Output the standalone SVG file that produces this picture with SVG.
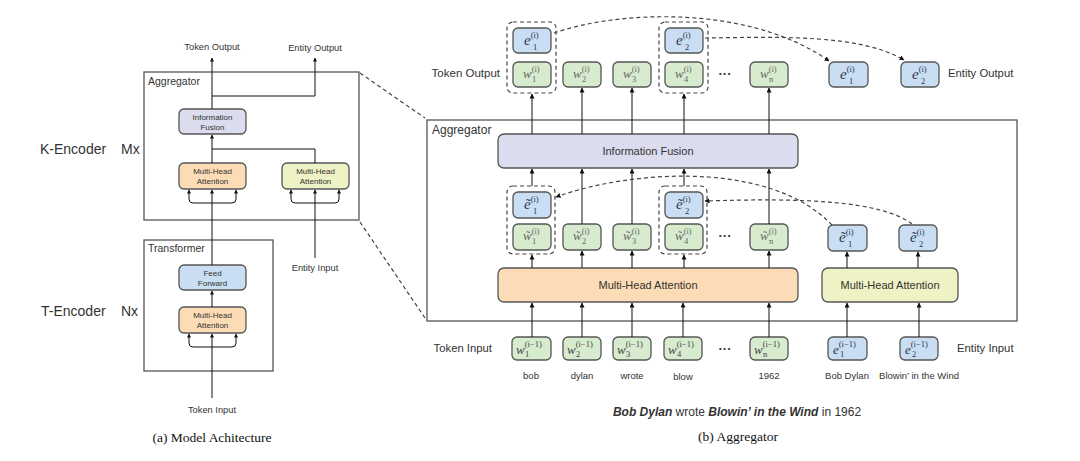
<svg xmlns="http://www.w3.org/2000/svg" width="1080" height="461" viewBox="0 0 1080 461">
<defs>
<marker id="arr" viewBox="0 0 10 10" refX="9" refY="5" markerWidth="5" markerHeight="5" markerUnits="userSpaceOnUse" orient="auto"><path d="M0,0 L10,5 L0,10 z" fill="#111"/></marker>
<marker id="arrs" viewBox="0 0 10 10" refX="9" refY="5" markerWidth="4" markerHeight="4" markerUnits="userSpaceOnUse" orient="auto"><path d="M0,0 L10,5 L0,10 z" fill="#111"/></marker>
<style>
.lbl{font-family:"Liberation Sans",Arial,sans-serif;fill:#333}
.cap{font-family:"Liberation Serif","Times New Roman",serif;fill:#111;font-size:13.5px}
.frame{fill:none;stroke:#555;stroke-width:1.3}
.box{stroke:#555;stroke-width:1.3}
.g{fill:#d7ebcf}
.b{fill:#c9def2}
.o{fill:#fcdcb6}
.y{fill:#eff2c4}
.p{fill:#dcdcef}
.ln{fill:none;stroke:#111;stroke-width:1}
.dash{fill:none;stroke:#444;stroke-width:1.2;stroke-dasharray:4,3}
.m{font-family:"Liberation Serif","Times New Roman",serif;font-style:italic}
.mw{fill:#666;font-size:13px}
.me{fill:#2a3550;font-size:15px}
.sup{font-style:normal;font-size:8.5px}
</style>
</defs>

<!-- ================= LEFT PANEL ================= -->
<g id="left-labels">
<text class="lbl" x="40" y="154" font-size="14">K-Encoder</text>
<text class="lbl" x="121" y="154" font-size="14">Mx</text>
<text class="lbl" x="41" y="316" font-size="14">T-Encoder</text>
<text class="lbl" x="121" y="316" font-size="14">Nx</text>
<text class="lbl" x="212" y="50" font-size="9.3" text-anchor="middle">Token Output</text>
<text class="lbl" x="315" y="51" font-size="9.3" text-anchor="middle">Entity Output</text>
<text class="lbl" x="315" y="271" font-size="9.3" text-anchor="middle">Entity Input</text>
<text class="lbl" x="212" y="413" font-size="9.3" text-anchor="middle">Token Input</text>
<text class="cap" x="212" y="442" text-anchor="middle">(a) Model Achitecture</text>
</g>

<g id="left-aggregator">
<rect class="frame" x="144" y="72" width="215" height="148"/>
<text class="lbl" x="148" y="85" font-size="10.5">Aggregator</text>
</g>
<g id="left-transformer">
<rect class="frame" x="144" y="240" width="129" height="131"/>
<text class="lbl" x="148" y="252" font-size="10.5">Transformer</text>
</g>

<g id="left-fusion">
<rect class="box p" x="179" y="109" width="67" height="25" rx="5"/>
<text class="lbl" x="212.5" y="120" font-size="8" text-anchor="middle">Information</text>
<text class="lbl" x="212.5" y="129.5" font-size="8" text-anchor="middle">Fusion</text>
</g>
<g id="left-mha-k">
<rect class="box o" x="179" y="163" width="67" height="26" rx="5"/>
<text class="lbl" x="212.5" y="174" font-size="8" text-anchor="middle">Multi-Head</text>
<text class="lbl" x="212.5" y="183.5" font-size="8" text-anchor="middle">Attention</text>
</g>
<g id="left-mha-e">
<rect class="box y" x="282" y="163" width="67" height="26" rx="5"/>
<text class="lbl" x="315.5" y="174" font-size="8" text-anchor="middle">Multi-Head</text>
<text class="lbl" x="315.5" y="183.5" font-size="8" text-anchor="middle">Attention</text>
</g>
<g id="left-ff">
<rect class="box b" x="179" y="265" width="67" height="25" rx="5"/>
<text class="lbl" x="212.5" y="276" font-size="8" text-anchor="middle">Feed</text>
<text class="lbl" x="212.5" y="285.5" font-size="8" text-anchor="middle">Forward</text>
</g>
<g id="left-mha-t">
<rect class="box o" x="179" y="307" width="67" height="26" rx="5"/>
<text class="lbl" x="212.5" y="318" font-size="8" text-anchor="middle">Multi-Head</text>
<text class="lbl" x="212.5" y="327.5" font-size="8" text-anchor="middle">Attention</text>
</g>

<g id="left-connectors">
<line class="ln" x1="212" y1="109" x2="212" y2="58" marker-end="url(#arrs)"/>
<path class="ln" d="M212,96 H315 V58" marker-end="url(#arrs)"/>
<line class="ln" x1="212" y1="163" x2="212" y2="135" marker-end="url(#arrs)"/>
<path class="ln" d="M315,163 V149 H212"/>
<line class="ln" x1="212" y1="265" x2="212" y2="190" marker-end="url(#arrs)"/>
<path class="ln" d="M212,203 H193 Q189,203 189,199 V190" marker-end="url(#arrs)"/>
<path class="ln" d="M212,203 H232 Q236,203 236,199 V190" marker-end="url(#arrs)"/>
<line class="ln" x1="315" y1="258" x2="315" y2="190" marker-end="url(#arrs)"/>
<path class="ln" d="M315,203 H295 Q291,203 291,199 V190" marker-end="url(#arrs)"/>
<path class="ln" d="M315,203 H335 Q339,203 339,199 V190" marker-end="url(#arrs)"/>
<line class="ln" x1="212" y1="307" x2="212" y2="291" marker-end="url(#arrs)"/>
<line class="ln" x1="212" y1="398" x2="212" y2="334" marker-end="url(#arrs)"/>
<path class="ln" d="M212,347 H193 Q189,347 189,343 V334" marker-end="url(#arrs)"/>
<path class="ln" d="M212,347 H232 Q236,347 236,343 V334" marker-end="url(#arrs)"/>
<line class="dash" x1="360" y1="73" x2="425" y2="118"/>
<line class="dash" x1="360" y1="222" x2="425" y2="318"/>
</g>

<!-- ================= RIGHT PANEL ================= -->
<g id="right-labels">
<text class="lbl" x="500" y="77" font-size="11.5" text-anchor="end">Token Output</text>
<text class="lbl" x="948" y="77" font-size="11.3">Entity Output</text>
<text class="lbl" x="492" y="352" font-size="11.3" text-anchor="end">Token Input</text>
<text class="lbl" x="957" y="352" font-size="11.3">Entity Input</text>
<text class="lbl" x="725" y="78" font-size="13" text-anchor="middle" font-weight="bold">···</text>
<text class="lbl" x="725" y="240" font-size="13" text-anchor="middle" font-weight="bold">···</text>
<text class="lbl" x="725" y="353" font-size="13" text-anchor="middle" font-weight="bold">···</text>
<text class="lbl" x="531" y="379" font-size="9.5" text-anchor="middle">bob</text>
<text class="lbl" x="582" y="379" font-size="9.5" text-anchor="middle">dylan</text>
<text class="lbl" x="632" y="379" font-size="9.5" text-anchor="middle">wrote</text>
<text class="lbl" x="683" y="380" font-size="9.5" text-anchor="middle">blow</text>
<text class="lbl" x="769" y="379" font-size="9.5" text-anchor="middle">1962</text>
<text class="lbl" x="847" y="379" font-size="9.5" text-anchor="middle">Bob Dylan</text>
<text class="lbl" x="919" y="379" font-size="9.5" text-anchor="middle">Blowin’ in the Wind</text>
<text class="lbl" x="737" y="416" font-size="12" text-anchor="middle" fill="#111"><tspan font-weight="bold" font-style="italic">Bob Dylan</tspan> wrote <tspan font-weight="bold" font-style="italic">Blowin’ in the Wind</tspan> in 1962</text>
<text class="cap" x="738" y="441" text-anchor="middle">(b) Aggregator</text>
</g>

<g id="right-aggregator">
<rect class="frame" x="427" y="120" width="590" height="201"/>
<text class="lbl" x="432" y="134" font-size="12">Aggregator</text>
</g>
<g id="right-fusion">
<rect class="box p" x="498" y="134" width="300" height="34" rx="6"/>
<text class="lbl" x="648" y="155" font-size="11" text-anchor="middle">Information Fusion</text>
</g>
<g id="right-mha-t">
<rect class="box o" x="498" y="268" width="300" height="34" rx="6"/>
<text class="lbl" x="648" y="289" font-size="11" text-anchor="middle">Multi-Head Attention</text>
</g>
<g id="right-mha-e">
<rect class="box y" x="822" y="268" width="136" height="34" rx="6"/>
<text class="lbl" x="890" y="289" font-size="11" text-anchor="middle">Multi-Head Attention</text>
</g>

<!-- top row: token output -->
<g id="out-group1">
<rect class="dash" x="507" y="22" width="49" height="71" rx="6"/>
<rect class="box b" x="513" y="28" width="38" height="25" rx="5"/>
<text class="m me" x="524" y="45">e<tspan class="sup" dy="-7">(i)</tspan><tspan class="sup" x="533" dy="12" font-size="10">1</tspan></text>
<rect class="box g" x="513" y="62" width="38" height="25" rx="5"/>
<text class="m mw" x="523" y="78">w<tspan class="sup" dy="-6">(i)</tspan><tspan class="sup" x="532" dy="10">1</tspan></text>
</g>
<g id="out-w2">
<rect class="box g" x="563" y="62" width="38" height="25" rx="5"/>
<text class="m mw" x="573" y="78">w<tspan class="sup" dy="-6">(i)</tspan><tspan class="sup" x="582" dy="10">2</tspan></text>
</g>
<g id="out-w3">
<rect class="box g" x="613" y="62" width="38" height="25" rx="5"/>
<text class="m mw" x="623" y="78">w<tspan class="sup" dy="-6">(i)</tspan><tspan class="sup" x="632" dy="10">3</tspan></text>
</g>
<g id="out-group4">
<rect class="dash" x="659" y="22" width="49" height="71" rx="6"/>
<rect class="box b" x="665" y="28" width="38" height="25" rx="5"/>
<text class="m me" x="676" y="45">e<tspan class="sup" dy="-7">(i)</tspan><tspan class="sup" x="685" dy="12" font-size="10">2</tspan></text>
<rect class="box g" x="665" y="62" width="38" height="25" rx="5"/>
<text class="m mw" x="675" y="78">w<tspan class="sup" dy="-6">(i)</tspan><tspan class="sup" x="684" dy="10">4</tspan></text>
</g>
<g id="out-wn">
<rect class="box g" x="750" y="62" width="38" height="25" rx="5"/>
<text class="m mw" x="760" y="78">w<tspan class="sup" dy="-6">(i)</tspan><tspan class="sup" x="769" dy="10">n</tspan></text>
</g>
<g id="out-e1">
<rect class="box b" x="829" y="62" width="39" height="25" rx="5"/>
<text class="m me" x="840" y="79">e<tspan class="sup" dy="-7">(i)</tspan><tspan class="sup" x="849" dy="12" font-size="10">1</tspan></text>
</g>
<g id="out-e2">
<rect class="box b" x="901" y="62" width="38" height="25" rx="5"/>
<text class="m me" x="912" y="79">e<tspan class="sup" dy="-7">(i)</tspan><tspan class="sup" x="921" dy="12" font-size="10">2</tspan></text>
</g>

<!-- middle row -->
<g id="mid-group1">
<rect class="dash" x="507" y="186" width="48" height="68" rx="6"/>
<rect class="box b" x="513" y="192" width="38" height="26" rx="5"/>
<text class="m me" x="524" y="209">ẽ<tspan class="sup" dy="-7">(i)</tspan><tspan class="sup" x="533" dy="12" font-size="10">1</tspan></text>
<rect class="box g" x="513" y="224" width="38" height="26" rx="5"/>
<text class="m mw" x="523" y="240">w̃<tspan class="sup" dy="-6">(i)</tspan><tspan class="sup" x="532" dy="10">1</tspan></text>
</g>
<g id="mid-w2">
<rect class="box g" x="563" y="224" width="38" height="26" rx="5"/>
<text class="m mw" x="573" y="240">w̃<tspan class="sup" dy="-6">(i)</tspan><tspan class="sup" x="582" dy="10">2</tspan></text>
</g>
<g id="mid-w3">
<rect class="box g" x="613" y="224" width="38" height="26" rx="5"/>
<text class="m mw" x="623" y="240">w̃<tspan class="sup" dy="-6">(i)</tspan><tspan class="sup" x="632" dy="10">3</tspan></text>
</g>
<g id="mid-group4">
<rect class="dash" x="659" y="186" width="48" height="68" rx="6"/>
<rect class="box b" x="665" y="192" width="38" height="26" rx="5"/>
<text class="m me" x="676" y="209">ẽ<tspan class="sup" dy="-7">(i)</tspan><tspan class="sup" x="685" dy="12" font-size="10">2</tspan></text>
<rect class="box g" x="665" y="224" width="38" height="26" rx="5"/>
<text class="m mw" x="675" y="240">w̃<tspan class="sup" dy="-6">(i)</tspan><tspan class="sup" x="684" dy="10">4</tspan></text>
</g>
<g id="mid-wn">
<rect class="box g" x="750" y="224" width="38" height="26" rx="5"/>
<text class="m mw" x="760" y="240">w̃<tspan class="sup" dy="-6">(i)</tspan><tspan class="sup" x="769" dy="10">n</tspan></text>
</g>
<g id="mid-e1">
<rect class="box b" x="828" y="225" width="39" height="26" rx="5"/>
<text class="m me" x="839" y="242">ẽ<tspan class="sup" dy="-7">(i)</tspan><tspan class="sup" x="848" dy="12" font-size="10">1</tspan></text>
</g>
<g id="mid-e2">
<rect class="box b" x="899" y="225" width="38" height="26" rx="5"/>
<text class="m me" x="910" y="242">ẽ<tspan class="sup" dy="-7">(i)</tspan><tspan class="sup" x="919" dy="12" font-size="10">2</tspan></text>
</g>

<!-- input row -->
<g id="in-w1">
<rect class="box g" x="512" y="337" width="39" height="23" rx="5"/>
<text class="m" x="516" y="354" font-size="13" fill="#444">w<tspan class="sup" dy="-7">(i−1)</tspan><tspan class="sup" x="525" dy="10">1</tspan></text>
</g>
<g id="in-w2">
<rect class="box g" x="563" y="337" width="38" height="23" rx="5"/>
<text class="m" x="567" y="354" font-size="13" fill="#444">w<tspan class="sup" dy="-7">(i−1)</tspan><tspan class="sup" x="576" dy="10">2</tspan></text>
</g>
<g id="in-w3">
<rect class="box g" x="613" y="337" width="38" height="23" rx="5"/>
<text class="m" x="617" y="354" font-size="13" fill="#444">w<tspan class="sup" dy="-7">(i−1)</tspan><tspan class="sup" x="626" dy="10">3</tspan></text>
</g>
<g id="in-w4">
<rect class="box g" x="664" y="337" width="38" height="23" rx="5"/>
<text class="m" x="668" y="354" font-size="13" fill="#444">w<tspan class="sup" dy="-7">(i−1)</tspan><tspan class="sup" x="677" dy="10">4</tspan></text>
</g>
<g id="in-wn">
<rect class="box g" x="750" y="337" width="38" height="23" rx="5"/>
<text class="m" x="754" y="354" font-size="13" fill="#444">w<tspan class="sup" dy="-7">(i−1)</tspan><tspan class="sup" x="763" dy="10">n</tspan></text>
</g>
<g id="in-e1">
<rect class="box b" x="828" y="337" width="39" height="23" rx="5"/>
<text class="m" x="833" y="354" font-size="13" fill="#2a3550">e<tspan class="sup" dy="-7">(i−1)</tspan><tspan class="sup" x="840" dy="10">1</tspan></text>
</g>
<g id="in-e2">
<rect class="box b" x="900" y="337" width="38" height="23" rx="5"/>
<text class="m" x="905" y="354" font-size="13" fill="#2a3550">e<tspan class="sup" dy="-7">(i−1)</tspan><tspan class="sup" x="912" dy="10">2</tspan></text>
</g>

<g id="right-connectors">
<line class="ln" x1="532" y1="134" x2="532" y2="94" marker-end="url(#arr)"/>
<line class="ln" x1="582" y1="134" x2="582" y2="88" marker-end="url(#arr)"/>
<line class="ln" x1="632" y1="134" x2="632" y2="88" marker-end="url(#arr)"/>
<line class="ln" x1="684" y1="134" x2="684" y2="94" marker-end="url(#arr)"/>
<line class="ln" x1="769" y1="134" x2="769" y2="88" marker-end="url(#arr)"/>
<line class="ln" x1="532" y1="186" x2="532" y2="169" marker-end="url(#arr)"/>
<line class="ln" x1="582" y1="224" x2="582" y2="169" marker-end="url(#arr)"/>
<line class="ln" x1="632" y1="224" x2="632" y2="169" marker-end="url(#arr)"/>
<line class="ln" x1="684" y1="186" x2="684" y2="169" marker-end="url(#arr)"/>
<line class="ln" x1="769" y1="224" x2="769" y2="169" marker-end="url(#arr)"/>
<line class="ln" x1="532" y1="268" x2="532" y2="255" marker-end="url(#arr)"/>
<line class="ln" x1="582" y1="268" x2="582" y2="251" marker-end="url(#arr)"/>
<line class="ln" x1="632" y1="268" x2="632" y2="251" marker-end="url(#arr)"/>
<line class="ln" x1="684" y1="268" x2="684" y2="255" marker-end="url(#arr)"/>
<line class="ln" x1="769" y1="268" x2="769" y2="251" marker-end="url(#arr)"/>
<line class="ln" x1="847" y1="268" x2="847" y2="252" marker-end="url(#arr)"/>
<line class="ln" x1="918" y1="268" x2="918" y2="252" marker-end="url(#arr)"/>
<line class="ln" x1="532" y1="337" x2="532" y2="303" marker-end="url(#arr)"/>
<line class="ln" x1="582" y1="337" x2="582" y2="303" marker-end="url(#arr)"/>
<line class="ln" x1="632" y1="337" x2="632" y2="303" marker-end="url(#arr)"/>
<line class="ln" x1="683" y1="337" x2="683" y2="303" marker-end="url(#arr)"/>
<line class="ln" x1="769" y1="337" x2="769" y2="303" marker-end="url(#arr)"/>
<line class="ln" x1="847" y1="337" x2="847" y2="303" marker-end="url(#arr)"/>
<line class="ln" x1="919" y1="337" x2="919" y2="303" marker-end="url(#arr)"/>
<path class="dash" d="M554,33 C620,10 750,5 829,61" marker-end="url(#arr)"/>
<path class="dash" d="M705,38 C780,37 860,34 904,60" marker-end="url(#arr)"/>
<path class="dash" d="M832,225 C770,160 630,170 556,197" marker-end="url(#arr)"/>
<path class="dash" d="M912,224 C880,200 800,198 705,201" marker-end="url(#arr)"/>
</g>
</svg>
